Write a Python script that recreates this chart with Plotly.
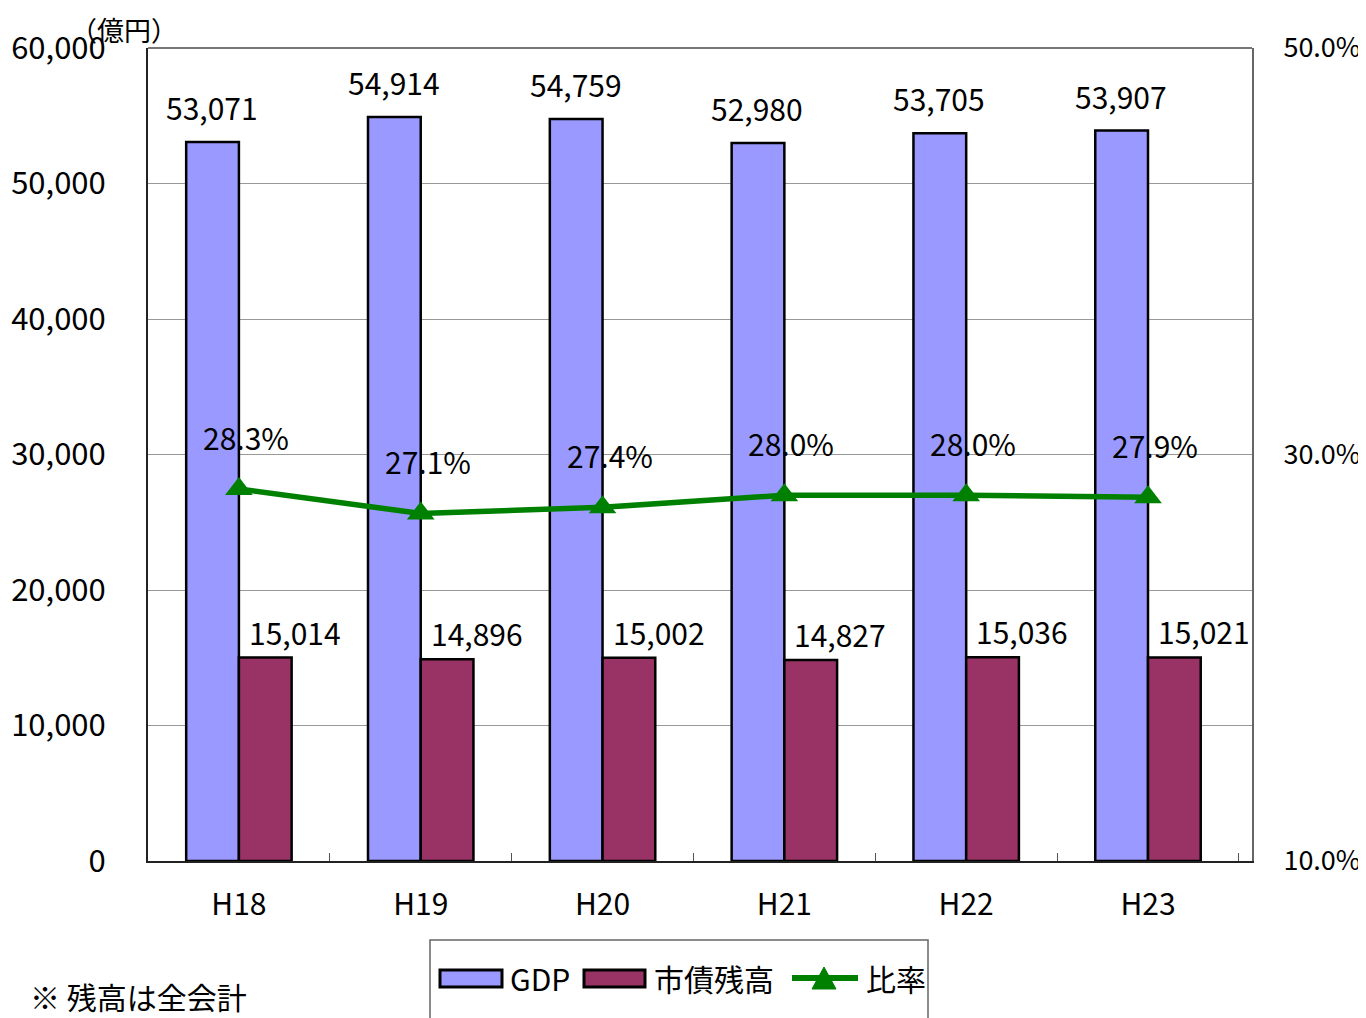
import plotly.graph_objects as go

categories = ["H18", "H19", "H20", "H21", "H22", "H23"]
gdp = [53071, 54914, 54759, 52980, 53705, 53907]
debt = [15014, 14896, 15002, 14827, 15036, 15021]
ratio = [28.3, 27.1, 27.4, 28.0, 28.0, 27.9]
legend_names = ["GDP", "市債残高", "比率"]

FONT = "Noto Sans CJK JP"
fs = 30
C_GDP, C_DEBT, C_RATIO = "#9999FF", "#993366", "#008000"

# page offset (browser default body margin of 8px)
OFF = 8
PL, PR, PT, PB = 148, 1252, 48, 861
W, H = 1366 - OFF, 1018 - OFF
PW, PH = PR - PL, PB - PT


def px(x):
    return (x - PL) / PW


def py(y):
    return (PB - y) / PH


fig = go.Figure()
fig.add_trace(go.Bar(x=categories, y=gdp, name=legend_names[0], showlegend=False,
                     marker=dict(color=C_GDP, line=dict(color="black", width=2.5))))
fig.add_trace(go.Bar(x=categories, y=debt, name=legend_names[1], showlegend=False,
                     marker=dict(color=C_DEBT, line=dict(color="black", width=2.5))))
fig.add_trace(go.Scatter(x=categories, y=ratio, name=legend_names[2], yaxis="y2", mode="lines+markers",
                         showlegend=False,
                         line=dict(color=C_RATIO, width=5.5),
                         marker=dict(symbol="triangle-up", size=24, color=C_RATIO)))

ann = []
for i, c in enumerate(categories):
    ann.append(dict(x=c, y=gdp[i], xref="x", yref="y", text=f"{gdp[i]:,}", showarrow=False,
                    xshift=-27, yshift=35, font=dict(family=FONT, size=fs, color="black")))
    ann.append(dict(x=c, y=debt[i], xref="x", yref="y", text=f"{debt[i]:,}", showarrow=False,
                    xshift=56, yshift=26, font=dict(family=FONT, size=fs, color="black")))
    ann.append(dict(x=c, y=ratio[i], xref="x", yref="y2", text=f"{ratio[i]:.1f}%", showarrow=False,
                    xshift=7, yshift=52, font=dict(family=FONT, size=fs, color="black")))

ann.append(dict(x=px(68), y=py(29), xref="paper", yref="paper", text="（億円）", showarrow=False,
                xanchor="left", yanchor="middle",
                font=dict(family=FONT, size=27, color="black")))
ann.append(dict(x=px(28), y=py(996), xref="paper", yref="paper", text="※ 残高は全会計", showarrow=False,
                xanchor="left", yanchor="middle",
                font=dict(family=FONT, size=30, color="black")))

# manual legend
shapes = []
shapes.append(dict(type="rect", xref="paper", yref="paper", x0=px(430), x1=px(928), y0=py(1030), y1=py(940),
                   line=dict(color="#666", width=1.5), fillcolor="white", layer="above"))
shapes.append(dict(type="rect", xref="paper", yref="paper", x0=px(440), x1=px(502), y0=py(987), y1=py(970),
                   line=dict(color="black", width=3), fillcolor=C_GDP, layer="above"))
shapes.append(dict(type="rect", xref="paper", yref="paper", x0=px(584), x1=px(645), y0=py(987), y1=py(970),
                   line=dict(color="black", width=3), fillcolor=C_DEBT, layer="above"))
shapes.append(dict(type="line", xref="paper", yref="paper", x0=px(792), x1=px(858), y0=py(978), y1=py(978),
                   line=dict(color=C_RATIO, width=6), layer="above"))
shapes.append(dict(type="path", xref="paper", yref="paper",
                   path=f"M {px(812)},{py(989)} L {px(836)},{py(989)} L {px(824)},{py(967)} Z",
                   fillcolor=C_RATIO, line=dict(color=C_RATIO, width=1), layer="above"))
shapes.append(dict(type="line", xref="paper", yref="paper", x0=0, x1=1, y0=1, y1=1,
                   line=dict(color="#777", width=2)))
for name, xl in zip(legend_names, [508, 652, 864]):
    ann.append(dict(x=px(xl), y=py(978), xref="paper", yref="paper", text=name, showarrow=False,
                    xanchor="left", yanchor="middle",
                    font=dict(family=FONT, size=fs, color="black")))

fig.update_layout(annotations=ann, shapes=shapes)

fig.update_layout(
    width=W, height=H,
    margin=dict(l=PL - OFF, r=W + OFF - PR, t=PT - OFF, b=H + OFF - PB, autoexpand=False),
    paper_bgcolor="white", plot_bgcolor="white",
    barmode="group", bargap=0.42, bargroupgap=0,
    font=dict(family=FONT, size=fs, color="black"),
    xaxis=dict(showline=True, linecolor="#222", linewidth=2, ticks="inside", tickson="boundaries",
               ticklen=8, tickcolor="#555", tickfont=dict(size=fs), ticklabelstandoff=16),
    yaxis=dict(range=[0, 60000], dtick=10000, tickformat=",", showgrid=True, gridcolor="#999",
               gridwidth=1, showline=True, linecolor="#222", linewidth=2, ticks="",
               tickfont=dict(size=31), ticklabelstandoff=34, zeroline=False),
    yaxis2=dict(range=[10, 50], tick0=10, dtick=20, overlaying="y", side="right", showgrid=False,
                ticksuffix="%", tickformat=".1f", showline=True, linecolor="#666", linewidth=2,
                ticks="", tickfont=dict(size=27), ticklabelstandoff=24, zeroline=False),
    showlegend=False,
)

fig.write_html("out.html")
